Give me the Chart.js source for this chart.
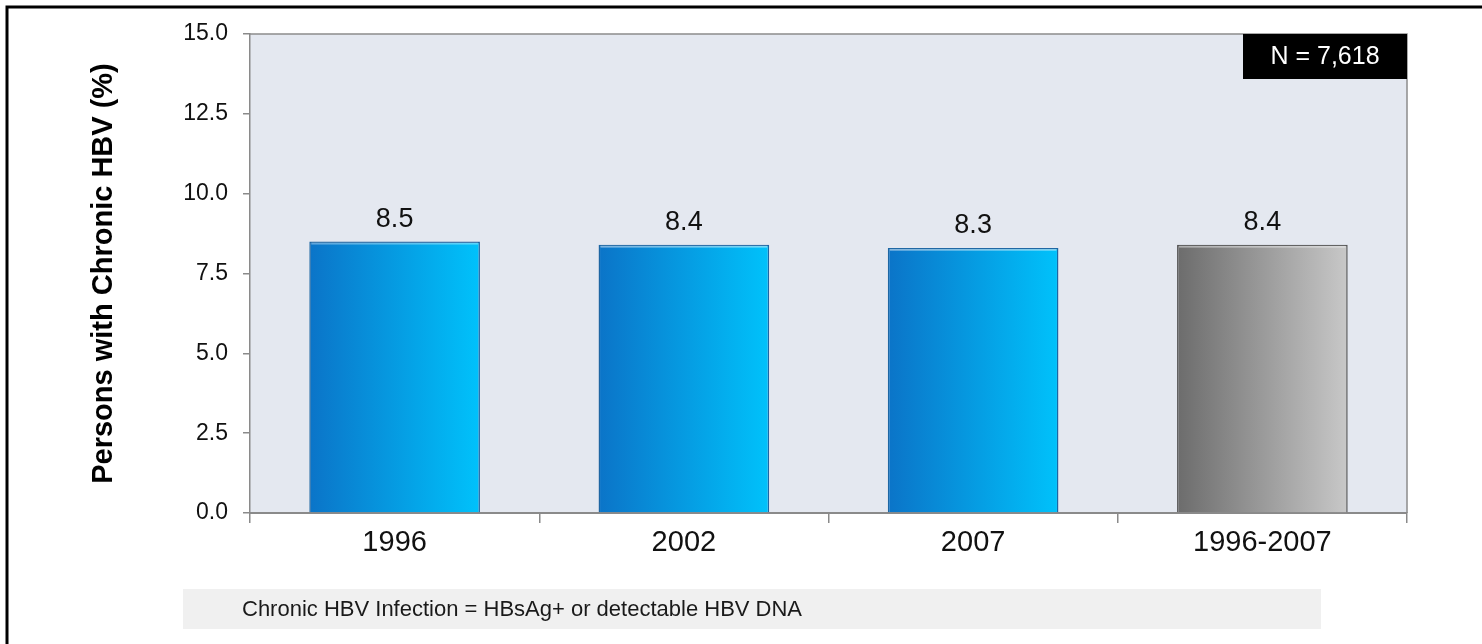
<!DOCTYPE html>
<html>
<head>
<meta charset="utf-8">
<title>Chronic HBV</title>
<script src="https://cdn.jsdelivr.net/npm/chart.js@4/dist/chart.umd.min.js"></script>
<style>
  html, body { margin: 0; padding: 0; background: #fff; }
  canvas { display: block; }
</style>
</head>
<body>
<canvas id="hbvChart" width="1482" height="644"></canvas>
<script>
// data
const categories = ['1996', '2002', '2007', '1996-2007'];
const prevalence = [8.5, 8.4, 8.3, 8.4];
const yTicks = [0, 2.5, 5, 7.5, 10, 12.5, 15];
const sampleNote = 'N = 7,618';
const footnote = 'Chronic HBV Infection = HBsAg+ or detectable HBV DNA';

const FONT = '"Liberation Sans", Arial, sans-serif';
const BAR_PCT = 0.59;
const blueStops = ['#0b74c8', '#00c2fb'];
const grayStops = ['#6c6c6c', '#c8c8c8'];
const pooledIndex = 3; // last bar is the pooled one, drawn in gray

function stopsFor(i) {
  return i === pooledIndex ? grayStops : blueStops;
}

const extras = {
  id: 'extras',
  beforeDraw(chart) {
    const { ctx, chartArea: a } = chart;
    ctx.save();
    ctx.fillStyle = '#e4e8f0';
    ctx.fillRect(a.left, a.top, a.right - a.left, a.bottom - a.top);
    ctx.restore();
  },
  afterDatasetsDraw(chart) {
    const { ctx } = chart;
    const meta = chart.getDatasetMeta(0);
    ctx.save();
    meta.data.forEach((bar, i) => {
      const left = bar.x - bar.width / 2;
      // small bevel highlight on top
      ctx.fillStyle = 'rgba(255,255,255,0.35)';
      ctx.fillRect(left + 2, bar.y + 1, bar.width - 4, 2);
      // value label
      ctx.fillStyle = '#111';
      ctx.font = '27px ' + FONT;
      ctx.textAlign = 'center';
      ctx.textBaseline = 'alphabetic';
      ctx.fillText(prevalence[i].toFixed(1), bar.x, bar.y - 15);
    });
    ctx.restore();
  },
  afterDraw(chart) {
    const { ctx, chartArea: a } = chart;
    ctx.save();
    // top & right frame of plot
    ctx.strokeStyle = '#8c8c8c';
    ctx.lineWidth = 1.5;
    ctx.beginPath();
    ctx.moveTo(a.left, a.top);
    ctx.lineTo(a.right, a.top);
    ctx.lineTo(a.right, a.bottom);
    ctx.stroke();

    // N box
    const bw = 164, bh = 45;
    ctx.fillStyle = '#000';
    ctx.fillRect(a.right - bw, a.top, bw, bh);
    ctx.fillStyle = '#fff';
    ctx.font = '25px ' + FONT;
    ctx.textAlign = 'center';
    ctx.textBaseline = 'middle';
    ctx.fillText(sampleNote, a.right - bw / 2, a.top + bh / 2 + 1);

    // footnote box
    ctx.fillStyle = '#f0f0f0';
    ctx.fillRect(183, 589, 1138, 40);
    ctx.fillStyle = '#1a1a1a';
    ctx.font = '22px ' + FONT;
    ctx.textAlign = 'left';
    ctx.fillText(footnote, 242, 610);

    // slide frame: left and top
    ctx.strokeStyle = '#000';
    ctx.lineWidth = 3;
    ctx.beginPath();
    ctx.moveTo(7, 644);
    ctx.lineTo(7, 7);
    ctx.lineTo(1482, 7);
    ctx.stroke();
    ctx.restore();
  }
};

new Chart(document.getElementById('hbvChart'), {
  type: 'bar',
  data: {
    labels: categories,
    datasets: [{
      data: prevalence,
      barPercentage: BAR_PCT,
      categoryPercentage: 1,
      borderWidth: 1.5,
      borderColor: (c) => c.dataIndex === pooledIndex ? '#555' : '#1d66a3',
      backgroundColor: (c) => {
        const chart = c.chart;
        const x = chart.scales.x;
        if (!chart.chartArea || !x) return stopsFor(c.dataIndex)[1];
        const mid = x.getPixelForValue(c.dataIndex);
        const half = (x.width / categories.length) * BAR_PCT / 2;
        const g = chart.ctx.createLinearGradient(mid - half, 0, mid + half, 0);
        const s = stopsFor(c.dataIndex);
        g.addColorStop(0, s[0]);
        g.addColorStop(1, s[1]);
        return g;
      }
    }]
  },
  options: {
    responsive: false,
    devicePixelRatio: 1,
    animation: false,
    layout: { padding: { top: 34, right: 75, left: 0, bottom: 0 } },
    plugins: {
      legend: { display: false },
      tooltip: { enabled: false }
    },
    scales: {
      x: {
        grid: { drawOnChartArea: false, drawTicks: true, tickLength: 10, color: '#8a8a8a', lineWidth: 1.5 },
        border: { display: true, color: '#8a8a8a', width: 2 },
        ticks: { color: '#111', font: { family: FONT, size: 29 }, padding: 3 },
        afterFit: (scale) => { scale.height = 131; }
      },
      y: {
        min: 0,
        max: 15,
        afterBuildTicks: (scale) => { scale.ticks = yTicks.map(v => ({ value: v })); },
        grid: { drawOnChartArea: false, drawTicks: true, tickLength: 7, color: '#8a8a8a', lineWidth: 1.5 },
        border: { display: true, color: '#8a8a8a', width: 1.5 },
        ticks: {
          color: '#111',
          font: { family: FONT, size: 23 },
          padding: 15,
          callback: (v) => Number(v).toFixed(1)
        },
        title: {
          display: true,
          text: 'Persons with Chronic HBV (%)',
          color: '#000',
          font: { family: FONT, size: 29, weight: 'bold' },
          padding: { top: 87, bottom: 0 }
        },
        afterFit: (scale) => { scale.width = 250; }
      }
    }
  },
  plugins: [extras]
});
</script>
</body>
</html>
